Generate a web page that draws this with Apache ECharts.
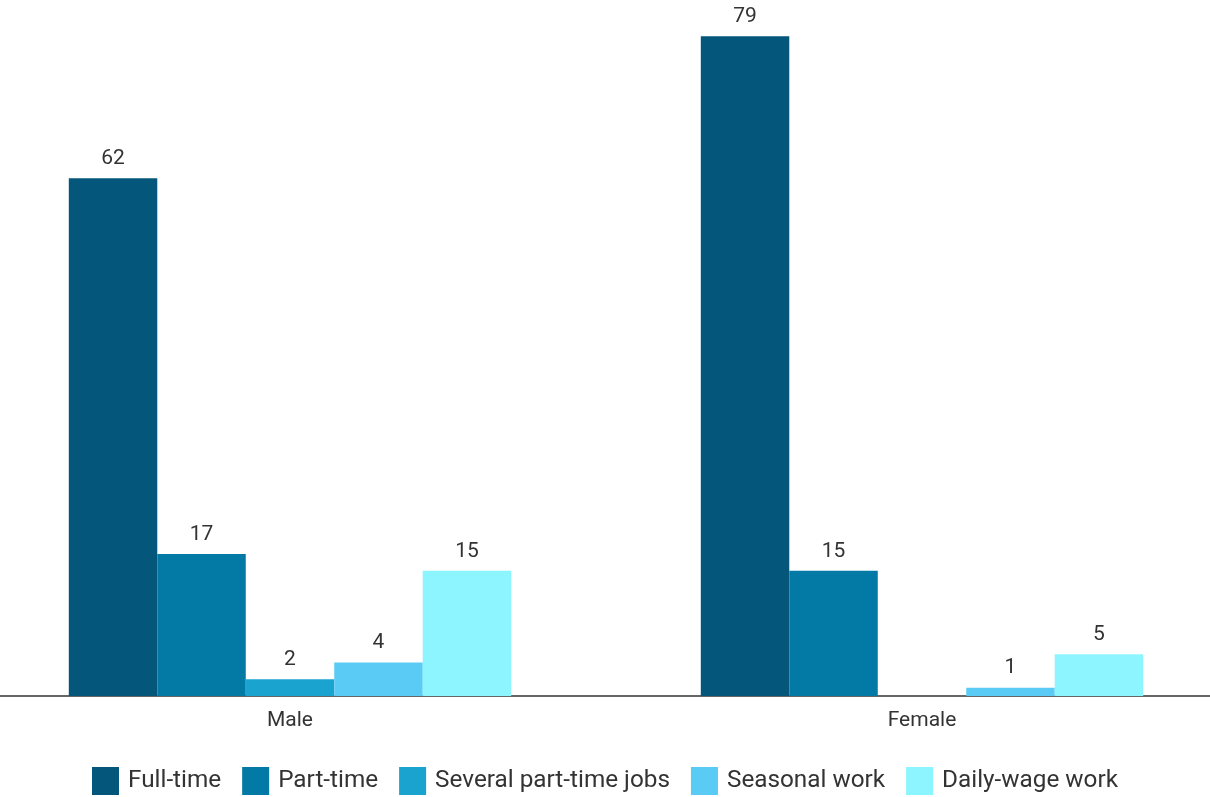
<!DOCTYPE html>
<html><head><meta charset="utf-8">
<script src="https://cdn.jsdelivr.net/npm/echarts@6/dist/echarts.min.js"></script>
<style>html,body{margin:0;padding:0;background:#fff}#c{width:1210px;height:797px}</style>
</head><body><div id="c"></div>
<script>
const categories = ['Male', 'Female'];
const seriesNames = ['Full-time', 'Part-time', 'Several part-time jobs', 'Seasonal work', 'Daily-wage work'];
const fullTime = [62, 79];
const partTime = [17, 15];
const severalJobs = [2, 0];
const seasonal = [4, 1];
const dailyWage = [15, 5];
const colors = ['#04567a', '#0379a5', '#1ba3cf', '#59cbf5', '#8cf5ff'];
const values = [fullTime, partTime, severalJobs, seasonal, dailyWage];

const chart = echarts.init(document.getElementById('c'));
chart.setOption({
  animation: false,
  textStyle: { fontFamily: 'Roboto' },
  color: colors,
  legend: {
    top: 762, left: 'center',
    itemWidth: 27, itemHeight: 28, itemGap: 21,
    icon: 'rect',
    textStyle: { fontSize: 24.3, color: '#333', fontFamily: 'Roboto', padding: [0, 0, 0, 4] },
    data: seriesNames
  },
  grid: { left: -26, width: 1264, top: 28, height: 668, containLabel: false, outerBoundsMode: 'none' },
  xAxis: {
    type: 'category', data: categories,
    axisLine: { lineStyle: { color: '#333', width: 1.5 } },
    axisTick: { show: false },
    axisLabel: { fontSize: 21, color: '#333', margin: 14 }
  },
  yAxis: { type: 'value', min: 0, max: 80, show: false, splitLine: { show: false } },
  series: values.map((v, i) => ({
    name: seriesNames[i], type: 'bar', data: v,
    barGap: '0%', barCategoryGap: '30%',
    itemStyle: { color: colors[i] },
    label: {
      show: true, position: 'top', distance: 9, fontSize: 21, color: '#333',
      formatter: p => p.value === 0 ? '' : p.value
    }
  }))
});
</script></body></html>
